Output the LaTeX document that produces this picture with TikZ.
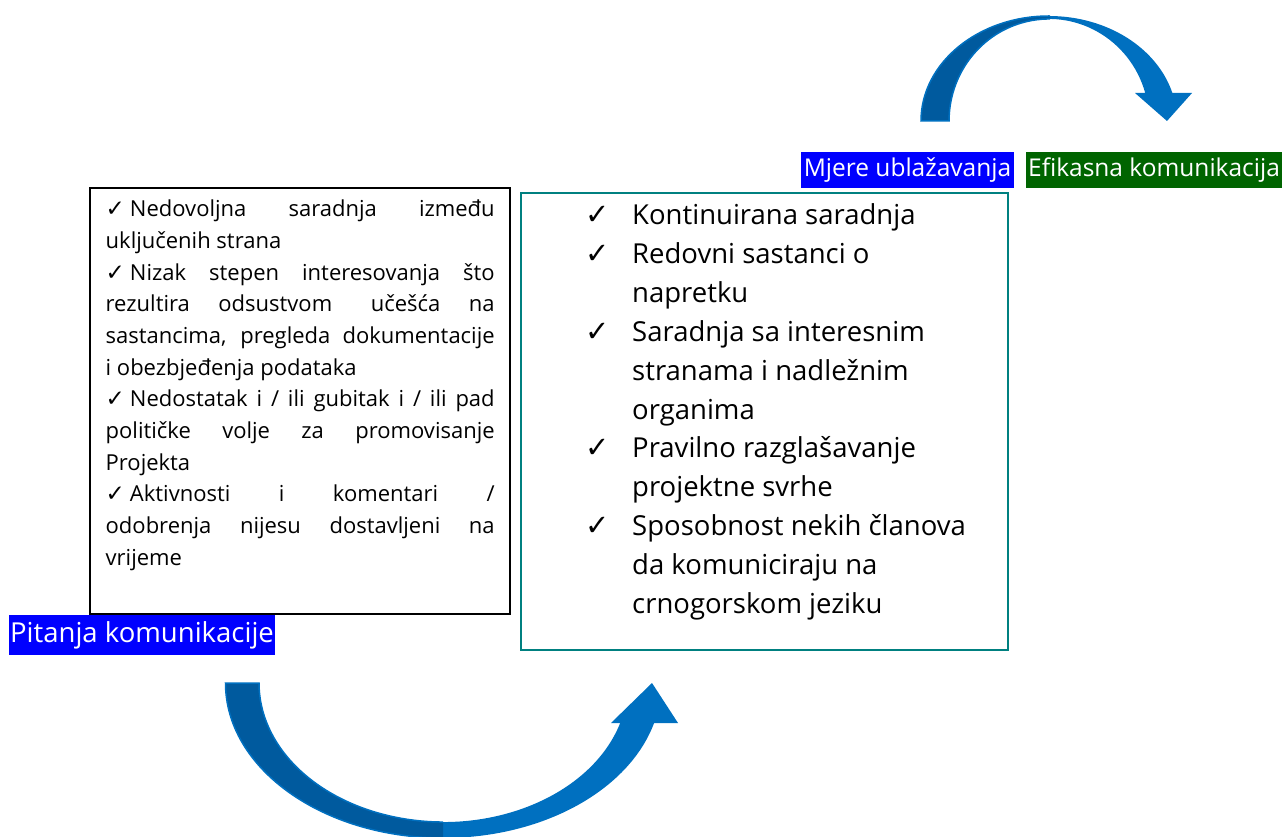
\documentclass[tikz,border=0pt]{standalone}
\usepackage{fontspec}
\setmainfont{Open Sans}
\newfontfamily\symf{DejaVu Sans}
\definecolor{arrowdark}{RGB}{0,90,158}
\definecolor{arrowlight}{RGB}{0,112,192}
\definecolor{boxteal}{RGB}{0,128,128}
\definecolor{lblblue}{RGB}{0,0,255}
\definecolor{lblgreen}{RGB}{0,100,0}
\newcommand{\toparrowpath}{(921,715) arc[start angle=180,end angle=15.47,x radius=128,y radius=105]
  -- (1192,743) -- (1167,715) -- (1135,743) -- (1145.2,743)
  arc[start angle=15.93,end angle=180,x radius=100,y radius=102] -- cycle}
\newcommand{\botarrowpath}{(225.5,153) arc[start angle=180,end angle=345.04,x radius=218,y radius=155]
  -- (678,113) -- (652,153) -- (611,113) -- (620.2,113)
  arc[start angle=343.28,end angle=180,x radius=184.5,y radius=139] -- cycle}
\newcommand{\ck}{{\symf\fontsize{23}{26}\selectfont ✓}\hspace{5pt}}
\tikzset{
  lbl/.style={fill=#1,text=white,inner sep=0pt,font=\fontsize{24.5}{29}\selectfont},
  lline/.style={anchor=base west,inner sep=0pt,font=\fontsize{22}{26}\selectfont},
  rline/.style={anchor=base west,inner sep=0pt,font=\fontsize{27.5}{32}\selectfont},
  rck/.style={anchor=base west,inner sep=0pt,font=\symf\fontsize{29}{34}\selectfont},
}
\begin{document}
\begin{tikzpicture}[x=1pt,y=1pt]
\useasboundingbox (0,0) rectangle (1282,836);
% arrows
\fill[arrowlight] \toparrowpath;
\begin{scope}
  \clip (0,0) rectangle (1050,836);
  \fill[arrowdark,draw=arrowlight,line width=1.5pt] \toparrowpath;
\end{scope}
\fill[arrowlight] \botarrowpath;
\begin{scope}
  \clip (0,0) rectangle (443,836);
  \fill[arrowdark,draw=arrowlight,line width=1.5pt] \botarrowpath;
\end{scope}
% labels
\node[lbl=lblblue,minimum width=213pt,minimum height=36pt] (mjere) at (907.5,666) {Mjere ublažavanja};
\node[lbl=lblgreen,minimum width=256pt,minimum height=36pt] (efik) at (1154,666) {Efikasna komunikacija};
\node[lbl=lblblue,minimum width=266pt,minimum height=40pt,font=\fontsize{27.5}{32}\selectfont] (pitanja) at (142,201) {Pitanja komunikacije};
% boxes
\node[draw=black,line width=2pt,minimum width=420pt,minimum height=426pt,inner sep=0pt] (lbox) at (300,435) {};
\node[draw=boxteal,line width=2pt,minimum width=487pt,minimum height=457pt,inner sep=0pt] (rbox) at (764.5,414.5) {};
% left text
\node[lline] (l1) at (105.5,619.3) {\makebox[389pt][s]{\ck Nedovoljna saradnja između}};
\node[lline] (l2) at (105.5,587.6) {uključenih strana};
\node[lline] (l3) at (105.5,555.9) {\makebox[389pt][s]{\ck Nizak stepen interesovanja što}};
\node[lline] (l4) at (105.5,524.2) {\makebox[389pt][s]{rezultira odsustvom\hspace{10pt} učešća na}};
\node[lline] (l5) at (105.5,492.5) {\makebox[389pt][s]{sastancima, pregleda dokumentacije}};
\node[lline] (l6) at (105.5,460.8) {i obezbjeđenja podataka};
\node[lline] (l7) at (105.5,429.1) {\makebox[389pt][s]{\ck Nedostatak i / ili gubitak i / ili pad}};
\node[lline] (l8) at (105.5,397.4) {\makebox[389pt][s]{političke volje za promovisanje}};
\node[lline] (l9) at (105.5,365.7) {Projekta};
\node[lline] (l10) at (105.5,334.0) {\makebox[389pt][s]{\ck Aktivnosti i komentari /}};
\node[lline] (l11) at (105.5,302.3) {\makebox[389pt][s]{odobrenja nijesu dostavljeni na}};
\node[lline] (l12) at (105.5,270.6) {vrijeme};
% right text
\node[rck] (c1) at (585,611) {✓};
\node[rline] (r1) at (632,611) {Kontinuirana saradnja};
\node[rck] (c2) at (585,572.2) {✓};
\node[rline] (r2) at (632,572.2) {Redovni sastanci o};
\node[rline] (r3) at (632,533.3) {napretku};
\node[rck] (c3) at (585,494.5) {✓};
\node[rline] (r4) at (632,494.5) {Saradnja sa interesnim};
\node[rline] (r5) at (632,455.7) {stranama i nadležnim};
\node[rline] (r6) at (632,416.8) {organima};
\node[rck] (c4) at (585,378) {✓};
\node[rline] (r7) at (632,378) {Pravilno razglašavanje};
\node[rline] (r8) at (632,339.2) {projektne svrhe};
\node[rck] (c5) at (585,300.3) {✓};
\node[rline] (r9) at (632,300.3) {Sposobnost nekih članova};
\node[rline] (r10) at (632,261.5) {da komuniciraju na};
\node[rline] (r11) at (632,222.7) {crnogorskom jeziku};
\end{tikzpicture}
\end{document}
